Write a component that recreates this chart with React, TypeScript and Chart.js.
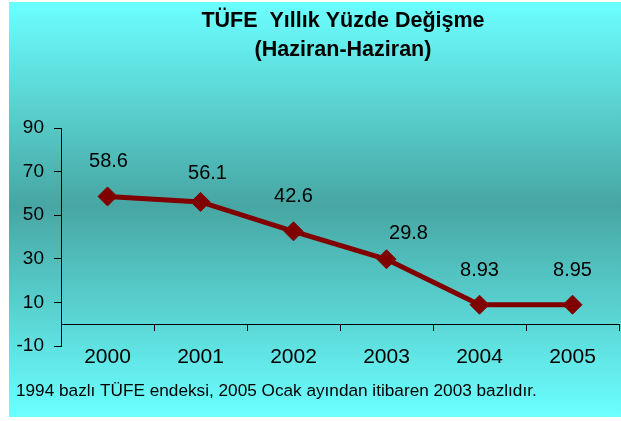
import React, { useEffect, useRef } from "react";
import { Chart, registerables } from "chart.js";

Chart.register(...registerables);

const years = ["2000", "2001", "2002", "2003", "2004", "2005"];
const cpiChange = [58.6, 56.1, 42.6, 29.8, 8.93, 8.95];
const valueLabels = ["58.6", "56.1", "42.6", "29.8", "8.93", "8.95"];
const labelShiftX = [1, 7, 0, 22, 0, 0];
const labelShiftY = [-35, -28, -35, -26, -34, -34];
const yTicks = [-10, 10, 30, 50, 70, 90];
const titleLines = ["TÜFE  Yıllık Yüzde Değişme", "(Haziran-Haziran)"];
const footnote = "1994 bazlı TÜFE endeksi, 2005 Ocak ayından itibaren 2003 bazlıdır.";

const FONT = "'Liberation Sans', Arial, Helvetica, sans-serif";
const LINE_COLOR = "#800000";

const decor = {
  id: "decor",
  beforeDraw(chart: any) {
    const ctx = chart.ctx;
    ctx.save();
    ctx.fillStyle = "#ffffff";
    ctx.fillRect(0, 0, chart.width, chart.height);
    const g = ctx.createLinearGradient(0, 2, 0, 417);
    g.addColorStop(0, "#6CFFFF");
    g.addColorStop(0.49, "#47A6A3");
    g.addColorStop(1, "#6BFFFF");
    ctx.fillStyle = g;
    ctx.fillRect(9, 2, chart.width - 9, 415);
    ctx.restore();
  },
  afterDatasetsDraw(chart: any) {
    const ctx = chart.ctx;
    const meta = chart.getDatasetMeta(0);
    ctx.save();
    ctx.fillStyle = "#000";
    ctx.font = `20px ${FONT}`;
    ctx.textAlign = "center";
    ctx.textBaseline = "middle";
    meta.data.forEach((pt: any, i: number) => {
      ctx.fillText(valueLabels[i], pt.x + labelShiftX[i], pt.y + labelShiftY[i]);
    });
    ctx.restore();
  },
  afterDraw(chart: any) {
    const ctx = chart.ctx;
    ctx.save();
    ctx.fillStyle = "#000";
    ctx.textBaseline = "middle";
    ctx.textAlign = "center";
    ctx.font = `bold 21.5px ${FONT}`;
    ctx.fillText(titleLines[0], 343, 21.3);
    ctx.fillText(titleLines[1], 343, 49.8);
    ctx.textAlign = "left";
    ctx.font = `17.2px ${FONT}`;
    ctx.fillText(footnote, 16, 391);
    ctx.restore();
  },
};

export default function App() {
  const ref = useRef<HTMLCanvasElement | null>(null);
  useEffect(() => {
    if (!ref.current) return;
    const chart = new Chart(ref.current, {
      type: "line",
      data: {
        labels: years,
        datasets: [
          {
            data: cpiChange,
            xAxisID: "x",
            yAxisID: "y",
            borderColor: LINE_COLOR,
            backgroundColor: LINE_COLOR,
            borderWidth: 5,
            pointStyle: "rectRot",
            pointRadius: 9.5,
            pointBorderWidth: 1,
            pointBackgroundColor: LINE_COLOR,
            pointBorderColor: LINE_COLOR,
            tension: 0,
            fill: false,
            clip: false,
          } as any,
        ],
      },
      options: {
        responsive: false,
        maintainAspectRatio: false,
        animation: false,
        devicePixelRatio: 1,
        layout: { autoPadding: false, padding: { left: 9, right: 2, top: 128, bottom: 45 } },
        plugins: {
          legend: { display: false },
          title: { display: false },
          tooltip: { enabled: false },
        },
        scales: {
          x: {
            type: "category",
            axis: "x",
            position: { y: 0 } as any,
            offset: true,
            grid: {
              display: true,
              drawOnChartArea: false,
              offset: true,
              tickLength: 6,
              color: "#000",
            },
            border: { display: true, color: "#000", width: 1 },
            ticks: { display: false },
            afterFit(s: any) {
              s.paddingLeft = 0;
              s.paddingRight = 0;
            },
          } as any,
          x2: {
            type: "category",
            axis: "x",
            labels: years,
            position: "bottom",
            offset: true,
            grid: { display: false },
            border: { display: false },
            ticks: {
              color: "#000",
              font: { family: FONT, size: 21 },
              padding: -9,
              maxRotation: 0,
              autoSkip: false,
            },
            afterFit(s: any) {
              s.height = 30;
              s.paddingLeft = 0;
              s.paddingRight = 0;
            },
          } as any,
          y: {
            type: "linear",
            position: "left",
            min: -10,
            max: 90,
            afterBuildTicks(s: any) {
              s.ticks = yTicks.map((v) => ({ value: v }));
            },
            grid: {
              display: true,
              drawOnChartArea: false,
              tickLength: 7,
              color: "#000",
            },
            border: { display: true, color: "#000", width: 1 },
            ticks: {
              color: "#000",
              font: { family: FONT, size: 19 },
              padding: 10,
            },
            afterFit(s: any) {
              s.width = 52;
            },
          } as any,
        },
      },
      plugins: [decor],
    });
    return () => chart.destroy();
  }, []);
  return (
    <div style={{ position: "absolute", left: 0, top: 0, width: 621, height: 421 }}>
      <canvas ref={ref} width={621} height={421} style={{ display: "block" }} />
    </div>
  );
}
